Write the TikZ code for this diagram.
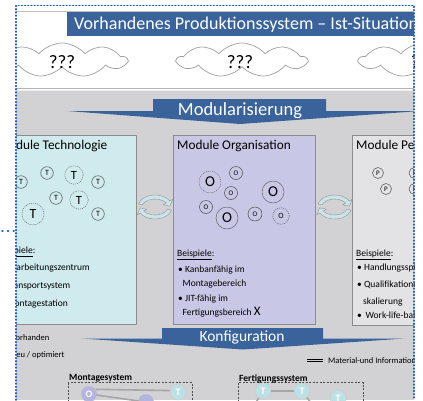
\documentclass[tikz,border=0pt]{standalone}
\usepackage{fontspec}
\setmainfont{Carlito}
\usetikzlibrary{shapes.symbols,arrows.meta,calc}
\definecolor{banner}{HTML}{3A639C}
\definecolor{slidegray}{HTML}{D2D2D4}
\definecolor{techfill}{HTML}{CFEBEE}
\definecolor{orgfill}{HTML}{C8C8E6}
\definecolor{persfill}{HTML}{E3E3E5}
\definecolor{dotblue}{HTML}{2063C4}
\definecolor{boxline}{HTML}{8C8C8C}
\definecolor{cycfill}{HTML}{C9E5EA}
\definecolor{lavball}{HTML}{B4B4DE}
\definecolor{cyanball}{HTML}{BCE0E4}
\tikzset{
  cyc/.pic={
    \fill[cycfill,draw=gray!85,line width=0.4pt]
      (195:17 and 12) arc[start angle=195,end angle=330,x radius=17,y radius=12]
      -- (330:20.5 and 15.5) -- (355:15 and 10) -- (330:9.5 and 4.5)
      -- (330:13 and 8) arc[start angle=330,end angle=195,x radius=13,y radius=8] -- cycle;
    \fill[cycfill,draw=gray!85,line width=0.4pt]
      (15:17 and 12) arc[start angle=15,end angle=150,x radius=17,y radius=12]
      -- (150:20.5 and 15.5) -- (175:15 and 10) -- (150:9.5 and 4.5)
      -- (150:13 and 8) arc[start angle=150,end angle=15,x radius=13,y radius=8] -- cycle;
  }
}
\begin{document}
\begin{tikzpicture}[x=1pt,y=-1pt,
  modbox/.style={draw=boxline,line width=0.6pt},
  modtitle/.style={anchor=base west,font=\fontsize{13.3}{15}\selectfont,inner sep=0pt},
  bodytxt/.style={anchor=base west,font=\fontsize{9.5}{11}\selectfont,inner sep=0pt},
  legtxt/.style={anchor=base west,font=\fontsize{8.5}{10}\selectfont,inner sep=0pt},
  bannertxt/.style={anchor=base,text=white,inner sep=0pt},
  smallc/.style={circle,draw=black!70,line width=0.5pt,minimum size=12.6pt,inner sep=0pt,font=\fontsize{8}{9}\selectfont},
  midc/.style={circle,draw=black!60,line width=0.5pt,minimum size=18.4pt,inner sep=0pt,font=\fontsize{12.5}{13}\selectfont},
  bigc/.style={circle,draw=black!60,line width=0.5pt,minimum size=22pt,inner sep=0pt,font=\fontsize{15}{16}\selectfont},
  tinyo/.style={circle,draw=black!70,line width=0.5pt,minimum size=13pt,inner sep=0pt,font=\fontsize{7}{8}\selectfont},
  pc/.style={circle,draw=black!70,line width=0.5pt,minimum size=11pt,inner sep=0pt,font=\fontsize{7}{8}\selectfont},
  dashc/.style={dash pattern=on 1pt off 1pt},
  cloudy/.style={cloud,cloud puffs=9,cloud puff arc=100,aspect=3.8,draw=gray!75,fill=white,line width=0.7pt,minimum width=129pt,minimum height=34pt,inner sep=0pt,font=\fontsize{19}{20}\selectfont},
  ball/.style={circle,minimum size=16pt,inner sep=0pt,draw=white!60!gray,line width=0.4pt,text=white,font=\bfseries\fontsize{10}{11}\selectfont},
  link/.style={draw=gray!70,line width=1.6pt},
  sysbox/.style={draw=black!70,line width=0.7pt,dash pattern=on 2pt off 1.5pt},
  dotline/.style={draw=dotblue,line width=1.8pt,line cap=round,dash pattern=on 0.7pt off 2.5pt}
]
\useasboundingbox (0,0) rectangle (423,400);
\fill[white] (0,0) rectangle (423,400);
\begin{scope}
\clip (16,0) rectangle (414,400);
% top area
\draw[gray!50,line width=0.5pt] (16,11.5) -- (414,11.5);
\fill[banner] (67,12) rectangle (430,36);
\node[bannertxt,anchor=base west,font=\fontsize{18}{19}\selectfont] (title) at (74,29.8) {Vorhandenes Produktionssystem – Ist-Situation};
\node[cloudy] (cl1) at (62,60) {};
\node[cloudy] (cl2) at (242,60) {};
\node[cloudy] (cl3) at (424,60) {};
\node[anchor=base,inner sep=0pt,font=\fontsize{19}{20}\selectfont] (q1) at (62,68) {???};
\node[anchor=base,inner sep=0pt,font=\fontsize{19}{20}\selectfont] (q2) at (240,68) {???};
\node[anchor=base,inner sep=0pt,font=\fontsize{19}{20}\selectfont] (q3) at (424,68) {???};
% gray area
\fill[slidegray] (0,90) rectangle (423,400);
\draw[gray!60,line width=0.5pt] (0,88.5) -- (423,88.5);
\draw[white!85!gray,line width=0.6pt] (0,90.5) -- (423,90.5);
% Modularisierung banner
\fill[banner] (67,111) -- (153,111) -- (153,99) -- (326,99) -- (326,111) -- (420,111) -- (240,124) -- cycle;
\node[bannertxt,font=\fontsize{18.5}{20}\selectfont] (modu) at (240,115) {Modularisierung};
% module boxes
\draw[modbox,fill=techfill] (-6,135) rectangle (136,324.5);
\draw[modbox,fill=orgfill] (173,135) rectangle (315,324.5);
\draw[modbox,fill=persfill] (352.5,135.5) rectangle (500,325);
\node[modtitle] (tt) at (-2.5,149.3) {Module Technologie};
\node[modtitle] (ot) at (177,149.3) {Module Organisation};
\node[modtitle] (pt) at (356,149.3) {Module Personal};
\pic at (155,207) {cyc};
\pic at (334.5,207) {cyc};
% T circles
\node[smallc] (t1) at (21,182) {T};
\node[smallc] (t2) at (47,173) {T};
\node[midc,dashc] (t3) at (74,175) {T};
\node[smallc] (t4) at (98,182) {T};
\node[smallc] (t5) at (56,198) {T};
\node[midc,dashc] (t6) at (79,200) {T};
\node[bigc,dashc,font=\fontsize{14}{15}\selectfont] (t7) at (33,214) {T};
\node[smallc] (t8) at (98,214) {T};
% O circles
\node[bigc,dashc] (o1) at (210,182) {O};
\node[tinyo] (o2) at (236,173) {O};
\node[tinyo] (o3) at (231,193) {O};
\node[bigc] (o4) at (273,192) {O};
\node[tinyo] (o5) at (206,207) {O};
\node[bigc] (o6) at (227,218) {O};
\node[tinyo,minimum size=14pt] (o7) at (255,214) {O};
\node[tinyo,dashc,minimum size=16.5pt,font=\fontsize{8}{9}\selectfont] (o8) at (281,216) {O};
% P circles
\node[pc] (p1) at (378,173) {P};
\node[pc] (p2) at (386,189) {P};
\node[pc] (p3) at (414.5,173) {P};
\node[pc] (p4) at (414.5,189) {P};
% texts Technologie
\node[bodytxt] (tb) at (-2,253) {\underline{Beispiele}:};
\node[bodytxt] (tb1) at (-0.5,270) {• Bearbeitungszentrum};
\node[bodytxt] (tb2) at (-0.5,288) {• Transportsystem};
\node[bodytxt] (tb3) at (-0.5,306) {• Montagestation};
% texts Organisation
\node[bodytxt] (ob) at (177,256) {\underline{Beispiele}:};
\node[bodytxt] (ob1) at (178,272) {• Kanbanfähig im};
\node[bodytxt] (ob2) at (182.5,286) {Montagebereich};
\node[bodytxt] (ob3) at (178,301) {• JIT-fähig im};
\node[bodytxt] (ob4) at (182.5,315) {Fertigungsbereich {\fontsize{13}{14}\selectfont X}};
% texts Personal
\node[bodytxt] (pb) at (356,256) {\underline{Beispiele}:};
\node[bodytxt] (pb1) at (357,270) {• Handlungsspielraum};
\node[bodytxt] (pb2) at (357,287) {• Qualifikations-};
\node[bodytxt] (pb3) at (363,304) {skalierung};
\node[bodytxt] (pb4) at (357,318) {•\, Work-life-balance};
% Konfiguration banner
\fill[banner] (82,338.5) -- (162,338.5) -- (162,328) -- (323,328) -- (323,338.5) -- (405,338.5) -- (243,349.5) -- cycle;
\node[bannertxt,font=\fontsize{15.5}{17}\selectfont] (konf) at (242,341.7) {Konfiguration};
% legend
\node[legtxt] (lv) at (11,340) {Vorhanden};
\node[legtxt] (ln) at (10.6,357) {Neu / optimiert};
\coordinate (dl1) at (307,360);
\coordinate (dl2) at (323,360);
\draw[black,line width=0.6pt] ([yshift=-1.2pt]dl1) -- ([yshift=-1.2pt]dl2);
\draw[black,line width=0.6pt] ([yshift=1.2pt]dl1) -- ([yshift=1.2pt]dl2);
\node[legtxt] (lm) at (328,363) {Material-und Informationsfluss};
% systems
\draw[sysbox] (68,382.5) rectangle (192,420);
\draw[sysbox] (238,382.5) rectangle (363,420);
\node[anchor=base west,inner sep=0pt,font=\bfseries\fontsize{9.5}{11}\selectfont] (ms) at (69,380) {Montagesystem};
\node[anchor=base west,inner sep=0pt,font=\bfseries\fontsize{9.5}{11}\selectfont] (fs) at (239,381) {Fertigungssystem};
\coordinate (mpos1) at (89,394);
\coordinate (mpos2) at (178,392);
\coordinate (mpos3) at (146,402);
\coordinate (fe1) at (250,412);
\coordinate (fe2) at (318,412);
\node[ball,fill=lavball] (mo) at (mpos1) {O};
\node[ball,fill=cyanball] (mt) at (mpos2) {T};
\node[ball,fill=lavball] (mo2) at (mpos3) {};
\node[ball,fill=cyanball] (ft1) at (263,391) {T};
\node[ball,fill=cyanball] (ft2) at (302,391) {T};
\node[ball,fill=cyanball] (ft3) at (338,398) {T};
\draw[link,shorten <=7.5pt,shorten >=7.5pt] (mo.center) -- (mo2.center);
\draw[link] (mo.35) -- (mt.170);
\draw[link] (ft1) -- (ft2);
\draw[link] (ft1) -- (fe1);
\draw[link] (ft2) -- (fe2);
\end{scope}
% dotted selection border
\draw[dotline] (16,400) -- (16,5.5) -- (414,5.5) -- (414,400);
\draw[dotline,dash pattern=on 0.7pt off 5pt] (2,231) -- (14,231);
\end{tikzpicture}
\end{document}
